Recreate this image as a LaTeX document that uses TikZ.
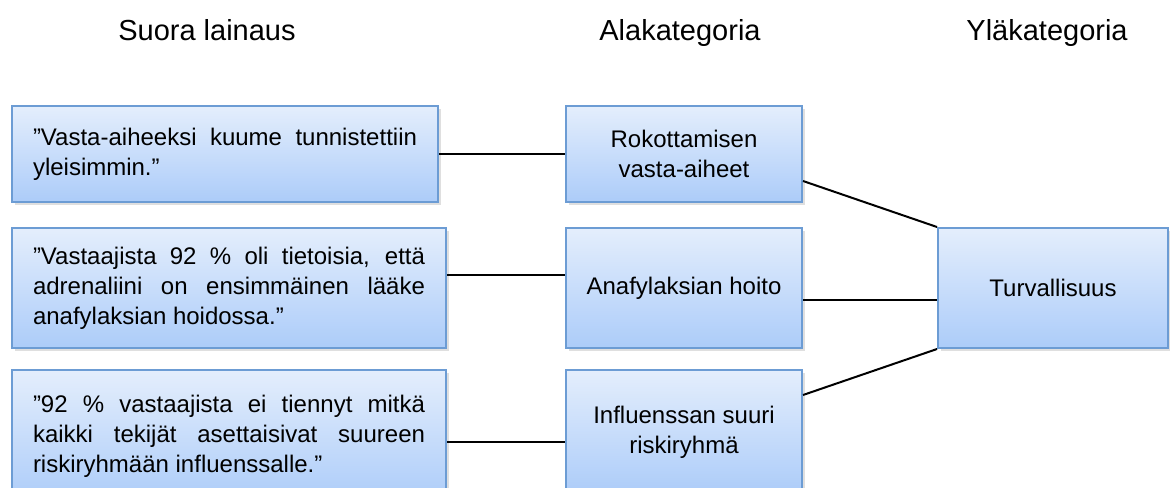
\documentclass[tikz,border=0pt]{standalone}
\usepackage{fontspec}
\setmainfont{Liberation Sans}
\usetikzlibrary{shadows}

\definecolor{boxtop}{RGB}{228,238,252}
\definecolor{boxbottom}{RGB}{172,204,249}
\definecolor{boxline}{RGB}{108,156,212}

\newcommand{\boxfont}{\fontsize{12}{15}\selectfont\hyphenpenalty=10000\exhyphenpenalty=10000\tolerance=9999}

\begin{document}
\begin{tikzpicture}[
    x=0.5pt, y=-0.5pt,
    box/.style={draw=boxline, line width=1pt,
        top color=boxtop, bottom color=boxbottom,
        drop shadow={shadow xshift=1.5pt, shadow yshift=-1.5pt, opacity=0.25},
        font=\boxfont, inner sep=0pt},
    quotebox/.style={box, align=justify, inner xsep=10.5pt},
    catbox/.style={box, align=center, minimum width=118pt},
    head/.style={font=\fontsize{14.5}{17}\selectfont, anchor=base},
    link/.style={line width=1pt},
]
\useasboundingbox (0,0) rectangle (1170,487);

% Column headings
\node[head] (h1) at (207,40) {Suora lainaus};
\node[head] (h2) at (680,40) {Alakategoria};
\node[head] (h3) at (1047,40) {Yläkategoria};

% Quotes
\node[quotebox, text width=192pt, minimum height=48pt] (lainaus1) at (225,154)
    {”Vasta-aiheeksi kuume tunnistettiin\linebreak yleisimmin.”};
\node[quotebox, text width=196pt, minimum height=60pt] (lainaus2) at (229,288)
    {”Vastaajista 92 \% oli tietoisia, että\linebreak adrenaliini on ensimmäinen lääke\linebreak anafylaksian hoidossa.”};
\node[quotebox, text width=196pt, minimum height=66pt] (lainaus3) at (229,436)
    {”92 \% vastaajista ei tiennyt mitkä\linebreak kaikki tekijät asettaisivat suureen\linebreak riskiryhmään influenssalle.”};

% Subcategories
\node[catbox, minimum height=48pt] (ala1) at (684,154) {Rokottamisen\\vasta-aiheet};
\node[catbox, minimum height=60pt] (ala2) at (684,288) {Anafylaksian hoito};
\node[catbox, minimum height=62pt] (ala3) at (684,432) {Influenssan suuri\\riskiryhmä};

% Main category
\node[box, minimum width=115pt, minimum height=60pt] (yla) at (1053,288) {Turvallisuus};

% Quote -> subcategory
\draw[link] (lainaus1.east) -- (ala1.west);
\draw[link] ([yshift=6.5pt]lainaus2.east) -- ([yshift=6.5pt]ala2.west);
\draw[link] ([yshift=-3pt]lainaus3.east) -- ([yshift=-5pt]ala3.west);

% Subcategory -> main category
\draw[link] ([yshift=-13.5pt]ala1.east) -- (yla.north west);
\draw[link] ([yshift=-6pt]ala2.east) -- ([yshift=-6pt]yla.west);
\draw[link] ([yshift=18.5pt]ala3.east) -- (yla.south west);
\end{tikzpicture}
\end{document}
